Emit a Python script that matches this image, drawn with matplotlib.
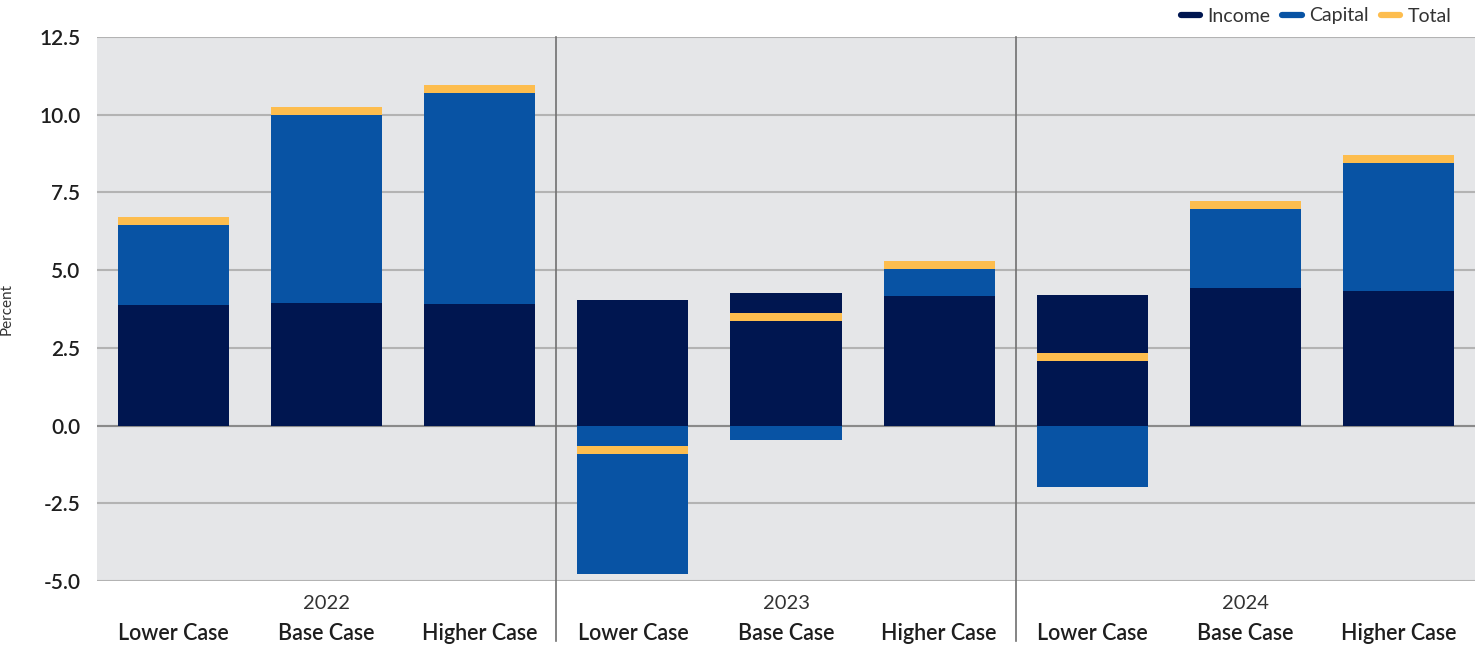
import matplotlib
matplotlib.use("Agg")
import matplotlib.pyplot as plt
from matplotlib.lines import Line2D
import matplotlib.transforms as mtransforms

plt.rcParams['font.family'] = ['Lato', 'DejaVu Sans']

years = ["2022", "2023", "2024"]
cases = ["Lower Case", "Base Case", "Higher Case"]
income = [3.87, 3.93, 3.90, 4.03, 4.26, 4.16, 4.19, 4.42, 4.32]
capital = [2.70, 6.18, 6.94, -4.77, -0.47, 1.00, -1.98, 2.69, 4.26]
total = [6.57, 10.11, 10.84, -0.79, 3.50, 5.16, 2.22, 7.11, 8.58]
yticks = [-5.0, -2.5, 0.0, 2.5, 5.0, 7.5, 10.0, 12.5]

c_income = "#001650"
c_capital = "#0853a4"
c_total = "#fdbd4e"

fig = plt.figure(figsize=(14.84, 6.46), dpi=100)
ax = fig.add_axes([97/1484, 1-581/646, (1475-97)/1484, (581-37)/646])
ax.set_facecolor("#e5e6e8")

n = len(income)
x = list(range(n))
w = 0.725
ax.set_xlim(-0.5, n - 0.5)
ax.set_ylim(-5.0, 12.5)
ax.set_yticks(yticks)
ax.set_yticklabels([f"{t:.1f}" for t in yticks])
ax.grid(axis='y', color="#b3b3b3", linewidth=1.5, zorder=0)
ax.set_axisbelow(True)
ax.axhline(0, color="#8a8a8a", linewidth=1.5, zorder=1)

for i in range(n):
    inc = income[i]
    cap = capital[i]
    ax.bar(x[i], inc, width=w, color=c_income, zorder=2, linewidth=0)
    if cap >= 0:
        ax.bar(x[i], cap, bottom=inc, width=w, color=c_capital, zorder=2, linewidth=0)
    else:
        ax.bar(x[i], cap, bottom=0, width=w, color=c_capital, zorder=2, linewidth=0)
    ax.bar(x[i], 0.26, bottom=total[i] - 0.13, width=w, color=c_total, zorder=3, linewidth=0)

for s in ax.spines.values():
    s.set_visible(False)
ax.tick_params(axis='y', length=0, pad=12, labelsize=15, labelcolor="#1e1e1e")
for lab in ax.get_yticklabels():
    lab.set_fontweight('semibold')
ax.set_xticks([])

trans = mtransforms.blended_transform_factory(ax.transData, ax.transAxes)
# separators
for b in [2.5, 5.5]:
    ax.plot([b, b], [-0.11, 1.0], transform=trans,
            color="#707070", linewidth=1.2, clip_on=False, zorder=4)

for g, yr in enumerate(years):
    ax.text(g * 3 + 1, -0.042, yr, transform=trans, ha='center', va='center', fontsize=14.5, color="#333333")
    for j, c in enumerate(cases):
        ax.text(g * 3 + j, -0.096, c, transform=trans, ha='center', va='center', fontsize=15.5,
                fontweight='semibold', color="#1e1e1e")

ax.set_ylabel("Percent", fontsize=11, color="#333333")
ax.yaxis.set_label_coords((14 - 97) / 1378, 0.5)

handles = [Line2D([0], [0], color=c_income, lw=4.5, solid_capstyle='round'),
           Line2D([0], [0], color=c_capital, lw=4.5, solid_capstyle='round'),
           Line2D([0], [0], color=c_total, lw=4.5, solid_capstyle='round')]
leg = fig.legend(handles, ["Income", "Capital", "Total"], loc='center right',
                 bbox_to_anchor=(1452/1484, 1 - 16/646),
                 ncol=3, frameon=False, fontsize=14, handlelength=1.0, handletextpad=0.4,
                 columnspacing=0.6, borderaxespad=0, borderpad=0)
for t in leg.get_texts():
    t.set_color("#333333")

fig.savefig("out.png", dpi=100)
